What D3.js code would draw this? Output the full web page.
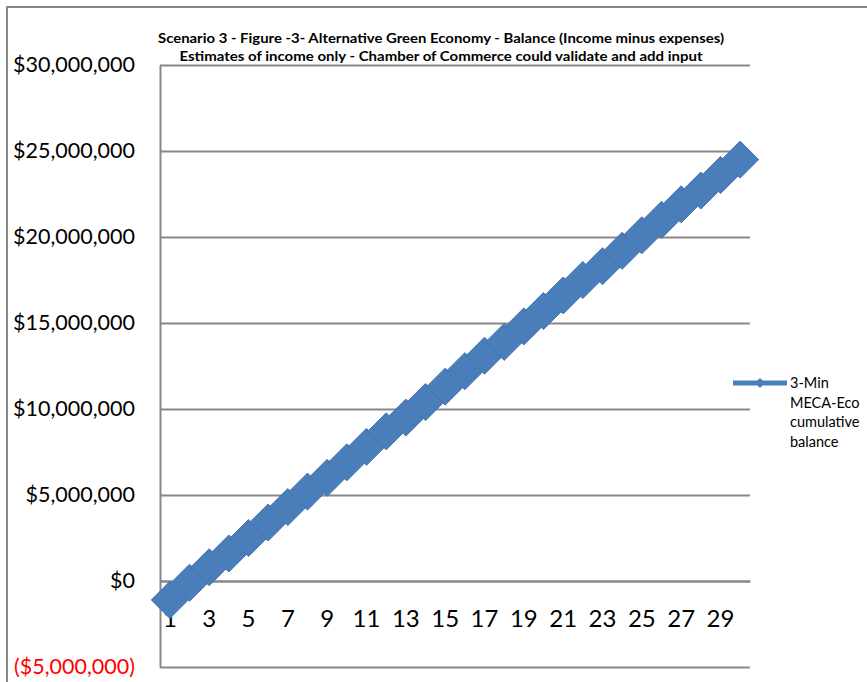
<!DOCTYPE html>
<html>
<head>
<meta charset="utf-8">
<script src="https://cdn.jsdelivr.net/npm/d3@7"></script>
<style>
  body { margin: 0; background: #fff; }
  svg { font-family: Lato, "Open Sans", sans-serif; }
</style>
</head>
<body>
<div id="chart"></div>
<script>
// chart data
var years = d3.range(1, 31).map(String);
var balance = [-1100000, -100000, 800000, 1600000, 2500000, 3400000, 4300000, 5200000, 6000000, 6900000,
  7800000, 8700000, 9500000, 10400000, 11300000, 12200000, 13100000, 13900000, 14800000, 15700000,
  16600000, 17500000, 18300000, 19200000, 20100000, 21000000, 21900000, 22700000, 23600000, 24500000];
var yTicks = [-5000000, 0, 5000000, 10000000, 15000000, 20000000, 25000000, 30000000];
var xTickLabels = years.filter(function(d, i) { return i % 2 === 0; });
var titleLines = ["Scenario 3 - Figure -3- Alternative Green Economy - Balance (Income minus expenses)",
  "Estimates of income only - Chamber of Commerce could validate and add input"];
var legendLines = ["3-Min", "MECA-Eco", "cumulative", "balance"];

var svgWidth = 867;
var svgHeight = 682;
var plot = { left: 160, right: 750, top: 65, bottom: 667 };
var blue = "#4a7ebb";

var svg = d3.select("#chart")
  .append("svg")
  .attr("width", svgWidth)
  .attr("height", svgHeight);

// outer chart border
svg.append("rect")
  .attr("x", 7).attr("y", 7)
  .attr("width", 900).attr("height", 720)
  .attr("fill", "none")
  .attr("stroke", "#898989")
  .attr("stroke-width", 2);

var x = d3.scaleBand().domain(years).range([plot.left, plot.right]);
var y = d3.scaleLinear().domain([-5000000, 30000000]).range([plot.bottom, plot.top]);

// gridlines
var grid = svg.append("g")
  .attr("transform", `translate(${plot.left},0)`)
  .call(d3.axisLeft(y).tickValues(yTicks).tickSize(-(plot.right - plot.left)).tickFormat(""));
grid.select(".domain").remove();
grid.selectAll("line").attr("stroke", "#888").attr("stroke-width", 2);

// y axis
var fmt = d3.format(",");
var yAxis = svg.append("g")
  .attr("transform", `translate(${plot.left},0)`)
  .call(d3.axisLeft(y).tickValues(yTicks).tickSize(0).tickPadding(25)
    .tickFormat(function(d) { return d < 0 ? "($" + fmt(-d) + ")" : "$" + fmt(d); }));
yAxis.select(".domain").attr("stroke", "#888").attr("stroke-width", 2);
yAxis.selectAll("text")
  .attr("font-size", "21.5px")
  .attr("font-family", "Lato, sans-serif")
  .attr("fill", function(d) { return d < 0 ? "#ff0000" : "#000"; });

// x axis crossing at zero
var xAxis = svg.append("g")
  .attr("transform", `translate(0,${y(0)})`)
  .call(d3.axisBottom(x).tickValues(xTickLabels).tickSize(0).tickPadding(29));
xAxis.select(".domain").attr("stroke", "#888").attr("stroke-width", 2);
xAxis.selectAll("text")
  .attr("font-size", "24px")
  .attr("font-family", "Lato, sans-serif")
  .attr("fill", "#000");

// series line + diamond markers
var cx = function(d, i) { return x(years[i]) + x.bandwidth() / 2; };
var line = d3.line().x(cx).y(function(d) { return y(d); });

svg.append("path")
  .datum(balance)
  .attr("d", line)
  .attr("fill", "none")
  .attr("stroke", blue)
  .attr("stroke-width", 10);

var diamond = function(s) { return `M0,${-s}L${s},0L0,${s}L${-s},0Z`; };

svg.selectAll(".marker")
  .data(balance)
  .enter()
  .append("path")
  .attr("class", "marker")
  .attr("transform", function(d, i) { return `translate(${cx(d, i)},${y(d)})`; })
  .attr("d", diamond(18.5))
  .attr("fill", blue)
  .attr("stroke", "#4673ad")
  .attr("stroke-width", 1);

// title
svg.selectAll(".title")
  .data(titleLines)
  .enter()
  .append("text")
  .attr("class", "title")
  .attr("x", 441)
  .attr("y", function(d, i) { return 43 + i * 18; })
  .attr("text-anchor", "middle")
  .attr("font-size", "13px")
  .attr("font-weight", "bold")
  .attr("textLength", function(d, i) { return i === 0 ? 566 : 523; })
  .attr("lengthAdjust", "spacingAndGlyphs")
  .text(function(d) { return d; });

// legend
var legend = svg.append("g");
legend.append("line")
  .attr("x1", 733).attr("x2", 787)
  .attr("y1", 383).attr("y2", 383)
  .attr("stroke", blue)
  .attr("stroke-width", 5);
legend.append("path")
  .attr("transform", "translate(760,383)")
  .attr("d", diamond(5))
  .attr("fill", blue);
legend.selectAll("text")
  .data(legendLines)
  .enter()
  .append("text")
  .attr("x", 790)
  .attr("y", function(d, i) { return 383 + i * 19.5; })
  .attr("dy", "0.35em")
  .attr("font-size", "14.5px")
  .text(function(d) { return d; });
</script>
</body>
</html>
